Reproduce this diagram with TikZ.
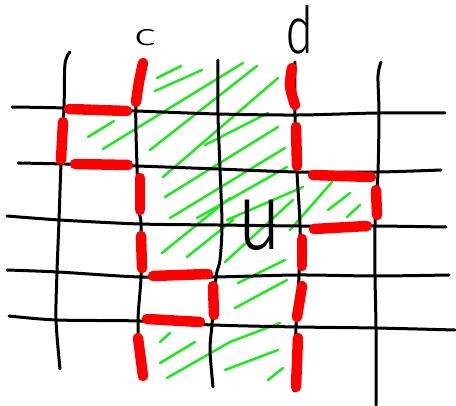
\documentclass[tikz,border=0pt]{standalone}
\usepackage{fontspec}
\setmainfont{Fira Sans Light}
\definecolor{penred}{RGB}{255,0,0}
\definecolor{pengreen}{RGB}{30,232,30}
\begin{document}
\begin{tikzpicture}[x=1pt,y=-1pt,
  gridline/.style={black, line width=3pt, line cap=round, line join=round},
  redseg/.style={penred, line width=10.5pt, line cap=round},
  hatch/.style={pengreen, line width=2.5pt, line cap=round},
  lbl/.style={inner sep=0pt, text=black}]
\fill[white] (0,0) rectangle (456,406);
\useasboundingbox (0,0) rectangle (456,406);
% green hatching
\draw[hatch] (157,78) -- (181,66);
\draw[hatch] (155,91) -- (202,70);
\draw[hatch] (88,137) -- (114,121);
\draw[hatch] (103,149) -- (243,63);
\draw[hatch] (150,150) -- (257,66);
\draw[hatch] (163,177) -- (278,78);
\draw[hatch] (165,197) -- (278,127);
\draw[hatch] (205,145) -- (268,113);
\draw[hatch] (170,218) -- (285,148);
\draw[hatch] (197,218) -- (287,167);
\draw[hatch] (227,220) -- (303,187);
\draw[hatch] (162,253) -- (230,198);
\draw[hatch] (187,257) -- (233,220);
\draw[hatch] (225,262) -- (293,200);
\draw[hatch] (238,283) -- (285,260);
\draw[hatch] (235,308) -- (287,280);
\draw[hatch] (290,230) -- (332,182);
\draw[hatch] (328,210) -- (350,193);
\draw[hatch] (347,217) -- (360,205);
\draw[hatch] (160,342) -- (170,333);
\draw[hatch] (160,363) -- (195,342);
\draw[hatch] (167,378) -- (230,342) -- (280,323);
\draw[hatch] (225,370) -- (278,350);
\draw[hatch] (268,380) -- (283,368);
% black grid
\draw[gridline] plot[smooth] coordinates {(12,107) (65,108) (137,111) (218,114) (298,115) (378,113) (445,113)};
\draw[gridline] plot[smooth] coordinates {(18,163) (65,164) (137,166) (218,169) (298,172) (378,172) (441,170)};
\draw[gridline] plot[smooth] coordinates {(7,216) (60,220) (140,224) (218,225) (300,226) (375,226) (446,227)};
\draw[gridline] plot[smooth] coordinates {(7,270) (58,272) (140,277) (213,277) (298,275) (375,276) (449,275)};
\draw[gridline] plot[smooth] coordinates {(9,316) (57,320) (140,321) (213,325) (298,327) (375,328) (455,330)};
\draw[gridline] plot[smooth] coordinates {(70,52) (65,64) (64,108) (61,164) (59,220) (57,272) (56,320) (60,369)};
\draw[gridline] plot[smooth] coordinates {(143,60) (136,103) (137,166) (139,210) (141,224) (141,277) (138,321) (140,378)};
\draw[gridline] plot[smooth] coordinates {(218,60) (218,114) (220,169) (222,225) (220,260) (216,277) (212,325) (210,350) (213,387)};
\draw[gridline] plot[smooth] coordinates {(295,62) (295,115) (297,172) (300,226) (299,275) (296,327) (294,391)};
\draw[gridline] plot[smooth] coordinates {(381,62) (378,76) (379,113) (378,172) (375,226) (375,276) (376,328) (376,405)};
% red dashes
\draw[redseg] plot[smooth] coordinates {(143,63) (139,82) (136,102)};
\draw[redseg] (69,109) -- (127,111);
\draw[redseg] (63,122) -- (61,160);
\draw[redseg] (75,164) -- (128,165);
\draw[redseg] (140,178) -- (140,210);
\draw[redseg] (141,236) -- (142,268);
\draw[redseg] (153,276) -- (208,274);
\draw[redseg] (213,286) -- (214,315);
\draw[redseg] (147,319) -- (200,322);
\draw[redseg] (138,338) -- (143,376);
\draw[redseg] plot[smooth] coordinates {(292,68) (290,86) (295,105)};
\draw[redseg] (296,127) -- (297,166);
\draw[redseg] (313,175) -- (371,177);
\draw[redseg] (376,190) -- (377,215);
\draw[redseg] (314,229) -- (367,226);
\draw[redseg] (302,239) -- (302,266);
\draw[redseg] (302,286) -- (297,317);
\draw[redseg] (298,338) -- (296,387);
% labels
\node[lbl, font=\fontsize{30}{30}\selectfont] (c) at (145,38) {\scalebox{1.6}[1]{c}};
\node[lbl, font=\fontsize{65}{65}\selectfont] (d) at (300,30) {\scalebox{0.75}[1]{d}};
\node[lbl, font=\fontsize{45}{45}\selectfont] (u) at (260,225) {\scalebox{1.7}[2.1]{u}};
\end{tikzpicture}
\end{document}
